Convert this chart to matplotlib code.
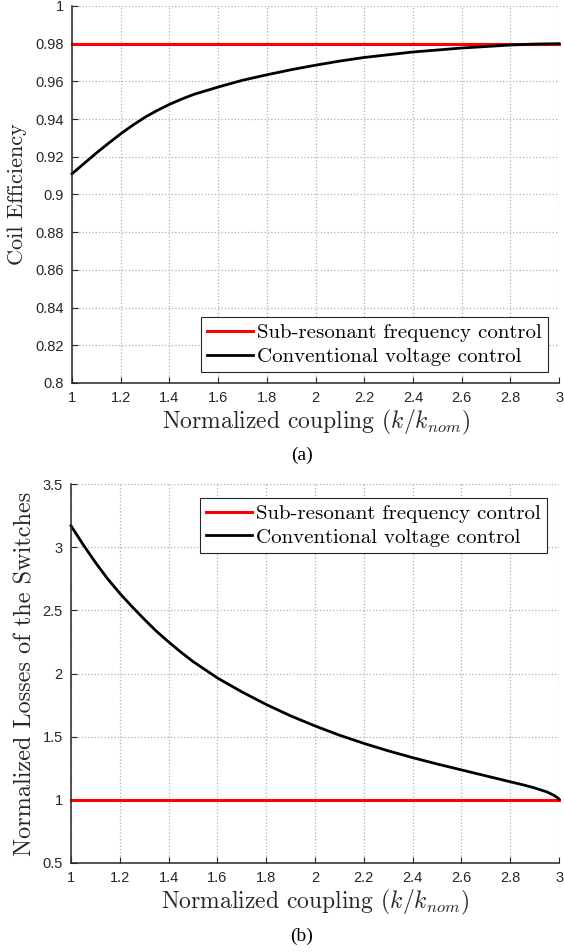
import numpy as np
import matplotlib.pyplot as plt
from matplotlib.ticker import FuncFormatter

# normalized coupling k/k_nom
k_eff = [1.0, 1.05, 1.1, 1.15, 1.2, 1.25, 1.3, 1.35, 1.4, 1.45, 1.5, 1.6, 1.7, 1.8, 1.9,
         2.0, 2.1, 2.2, 2.4, 2.6, 2.8, 2.9, 3.0]
eff_conv = [0.911, 0.9165, 0.922, 0.9272, 0.9322, 0.9368, 0.941, 0.9446, 0.9478, 0.9506,
            0.9531, 0.957, 0.9606, 0.9635, 0.9662, 0.9686, 0.9708, 0.9727, 0.9756, 0.9777,
            0.9793, 0.9798, 0.980]
eff_sub = [0.98] * len(k_eff)

k_loss = [1.0, 1.05, 1.1, 1.15, 1.2, 1.25, 1.3, 1.35, 1.4, 1.45, 1.5, 1.6, 1.7, 1.8, 1.9,
          2.0, 2.1, 2.2, 2.3, 2.4, 2.5, 2.6, 2.7, 2.8, 2.85, 2.9, 2.95, 2.98, 2.995, 3.0]
loss_conv = [3.17, 3.02, 2.88, 2.75, 2.635, 2.53, 2.43, 2.335, 2.25, 2.17, 2.095, 1.965,
             1.855, 1.755, 1.665, 1.585, 1.512, 1.447, 1.388, 1.334, 1.284, 1.237, 1.19,
             1.143, 1.12, 1.094, 1.063, 1.035, 1.015, 1.005]
loss_sub = [1.0] * len(k_loss)

labels = ['Sub-resonant frequency control', 'Conventional voltage control']
xticks = [1, 1.2, 1.4, 1.6, 1.8, 2, 2.2, 2.4, 2.6, 2.8, 3]

plt.rcParams['mathtext.fontset'] = 'cm'
plt.rcParams['axes.unicode_minus'] = False
tickfont = 'Liberation Sans'
labfont = 'cmr10'

fig = plt.figure(figsize=(5.64, 9.52), dpi=100)
ax1 = fig.add_axes([0.1277, 0.5977, 0.8635, 0.396])
ax2 = fig.add_axes([0.1259, 0.0935, 0.8653, 0.398])

fmt = FuncFormatter(lambda v, p: '%g' % round(v, 4))


def style(ax, yticks):
    ax.set_xlim(1, 3)
    ax.set_xticks(xticks)
    ax.set_yticks(yticks)
    ax.set_ylim(yticks[0], yticks[-1])
    ax.xaxis.set_major_formatter(fmt)
    ax.yaxis.set_major_formatter(fmt)
    for s in ['top', 'right']:
        ax.spines[s].set_visible(False)
    for s in ['left', 'bottom']:
        ax.spines[s].set_linewidth(1.1)
        ax.spines[s].set_color('#262626')
    ax.tick_params(direction='in', length=4, width=0.8, colors='#262626', labelsize=10.5, pad=6)
    for t in ax.get_xticklabels() + ax.get_yticklabels():
        t.set_fontfamily(tickfont)
    ax.grid(True, color='#b0b0b0', linestyle=':', linewidth=0.9)
    ax.set_axisbelow(True)
    ax.set_xlabel(r'Normalized coupling ($k/k_{nom}$)', fontfamily=labfont, fontsize=17,
                  color='#262626', labelpad=2)


def legend(ax, loc, anchor):
    leg = ax.legend(loc=loc, bbox_to_anchor=anchor, prop={'family': labfont, 'size': 15},
                    frameon=True, fancybox=False, edgecolor='#262626', framealpha=1,
                    handlelength=2.2, handletextpad=0.2, borderpad=0.3, labelspacing=0.25,
                    borderaxespad=0)
    leg.get_frame().set_linewidth(0.8)


ax1.plot(k_eff, eff_sub, color='#ff0000', lw=2.2, label=labels[0], clip_on=False)
ax1.plot(k_eff, eff_conv, color='black', lw=2.0, label=labels[1], clip_on=False)
style(ax1, [0.8, 0.82, 0.84, 0.86, 0.88, 0.9, 0.92, 0.94, 0.96, 0.98, 1])
ax1.set_ylabel('Coil Efficiency', fontfamily=labfont, fontsize=16, color='#262626', labelpad=6)
legend(ax1, 'lower right', (0.977, 0.029))

ax2.plot(k_loss, loss_sub, color='#ff0000', lw=2.2, label=labels[0], clip_on=False)
ax2.plot(k_loss, loss_conv, color='black', lw=2.0, label=labels[1], clip_on=False)
style(ax2, [0.5, 1, 1.5, 2, 2.5, 3, 3.5])
ax2.set_ylabel('Normalized Losses of the Switches', fontfamily=labfont, fontsize=17.5,
               color='#262626', labelpad=4)
legend(ax2, 'upper right', (0.975, 0.963))

fig.text(0.535, 1 - 455 / 952, '(a)', fontfamily='Liberation Serif', fontsize=14,
         ha='center', va='center')
fig.text(0.535, 1 - 936 / 952, '(b)', fontfamily='Liberation Serif', fontsize=14,
         ha='center', va='center')

fig.savefig('out.png', dpi=100)
